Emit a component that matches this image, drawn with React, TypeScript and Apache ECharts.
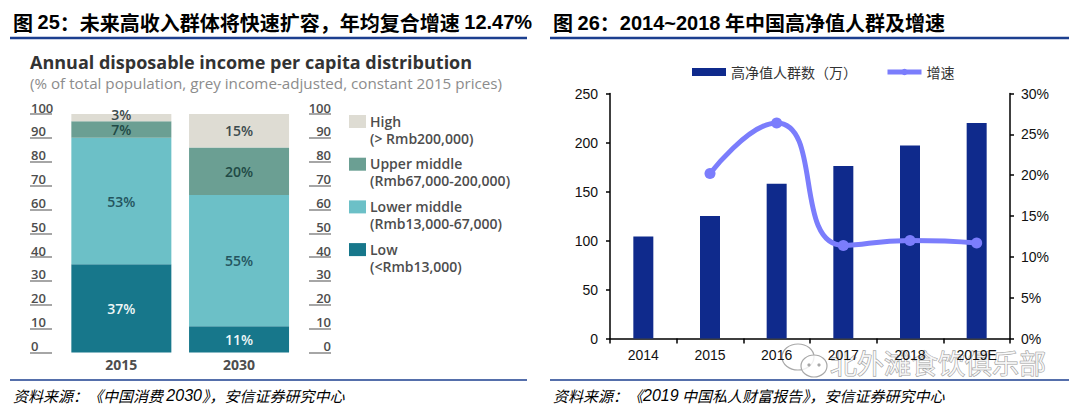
import React, { useEffect, useRef } from 'react';
import * as echarts from 'echarts';

// ---- Figure 25 data ----
const incomeYears = ['2015', '2030'];
const incomeGroups = ['Low', 'Lower middle', 'Upper middle', 'High'];
const incomeRanges = ['(<Rmb13,000)', '(Rmb13,000-67,000)', '(Rmb67,000-200,000)', '(> Rmb200,000)'];
const lowShare = [37, 11];
const lowerMiddleShare = [53, 55];
const upperMiddleShare = [7, 20];
const highShare = [3, 15];
const shareAxisMax = 100;
const shareAxisStep = 10;

// ---- Figure 26 data ----
const hnwYears = ['2014', '2015', '2016', '2017', '2018', '2019E'];
const hnwCount = [104, 125, 158, 176, 197, 220];
const hnwGrowth = [null, 20.2, 26.4, 11.4, 12.0, 11.7];
const hnwCountName = '高净值人群数（万）';
const hnwGrowthName = '增速';

// ---- texts ----
const title25 = ['图 ', '25', '：未来高收入群体将快速扩容，年均复合增速 ', '12.47%'];
const title26 = ['图 ', '26', '：', '2014~2018', ' 年中国高净值人群及增速'];
const chartTitle25 = 'Annual disposable income per capita distribution';
const chartSub25 = '(% of total population, grey income-adjusted, constant 2015 prices)';
const source25 = ['资料来源：《中国消费 ', '2030', '》，安信证券研究中心'];
const source26 = ['资料来源：《', '2019', ' 中国私人财富报告》，安信证券研究中心'];
const watermark = '北外滩食饮俱乐部';

const incomeColors = ['#17778b', '#6cc0c7', '#6b9f93', '#dedcd3'];
const incomeLabelColors = ['#eef7f8', '#24555e', '#1f4a45', '#3c4b4d'];
const sansEn = '"Open Sans", "Noto Sans", sans-serif';
const sansCJK = '"Noto Sans CJK SC", sans-serif';
const arial = '"Liberation Sans", Arial, sans-serif';
const headBlue = '#1b4a9c';
const greyText = '#4d4d4d';

export default function App() {
  const ref = useRef<HTMLDivElement>(null);

  useEffect(() => {
    if (!ref.current) return;
    const chart = echarts.init(ref.current, null, { renderer: 'svg' });

    const shares = [lowShare, lowerMiddleShare, upperMiddleShare, highShare];
    const incomeSeries = incomeGroups.map((name, gi) => ({
      name,
      type: 'bar',
      stack: 'income',
      xAxisIndex: 0,
      yAxisIndex: 0,
      barWidth: 100,
      itemStyle: { color: incomeColors[gi] },
      label: {
        show: true,
        position: 'inside',
        formatter: '{c}%',
        color: incomeLabelColors[gi],
        fontFamily: sansEn,
        fontWeight: 600,
        fontSize: 14,
      },
      data: shares[gi].map((v, i) =>
        gi === 3 && i === 0 ? { value: v, label: { offset: [0, -3] } } : v
      ),
    }));

    const rich = (fontSize: number) => ({
      a: { fontFamily: sansCJK, fontSize, color: headBlue, fontWeight: 'bold' },
      b: { fontFamily: arial, fontSize, color: headBlue, fontWeight: 'bold' },
    });

    const legendItems: any[] = [];
    incomeGroups.forEach((name, gi) => {
      const idx = 3 - gi; // High first
      const y0 = 115 + idx * 42.7;
      legendItems.push({
        type: 'rect',
        shape: { x: 349, y: y0, width: 17, height: 13 },
        style: { fill: incomeColors[gi] },
      });
      legendItems.push({
        type: 'text',
        x: 370,
        y: y0 + 6,
        style: {
          text: name,
          fill: greyText,
          fontFamily: sansEn,
          fontWeight: 600,
          fontSize: 14,
          verticalAlign: 'middle',
          align: 'left',
        },
      });
      legendItems.push({
        type: 'text',
        x: 370,
        y: y0 + 23,
        style: {
          text: incomeRanges[gi],
          fill: greyText,
          fontFamily: sansEn,
          fontWeight: 600,
          fontSize: 14,
          verticalAlign: 'middle',
          align: 'left',
        },
      });
    });

    const option: any = {
      animation: false,
      backgroundColor: '#fff',
      legend: {
        left: 687,
        top: 60,
        itemWidth: 34,
        itemHeight: 8,
        itemGap: 28,
        textStyle: { fontFamily: sansCJK, fontSize: 14, color: '#333' },
        data: [
          { name: hnwCountName, icon: 'rect' },
          { name: hnwGrowthName, lineStyle: { width: 5, color: '#7b7dfc' } },
        ],
      },
      grid: [
        { left: 62.5, top: 114, width: 235.4, height: 238.5 },
        { left: 610, top: 93.5, width: 400, height: 245 },
      ],
      xAxis: [
        {
          type: 'category',
          gridIndex: 0,
          data: incomeYears,
          axisLine: { show: false },
          axisTick: { show: false },
          axisLabel: {
            color: greyText,
            fontFamily: sansEn,
            fontWeight: 'bold',
            fontSize: 14,
            margin: 5,
          },
        },
        {
          type: 'category',
          gridIndex: 1,
          data: hnwYears,
          axisLine: { show: true, lineStyle: { color: '#000', width: 1.5 } },
          axisTick: { show: true, length: 5, lineStyle: { color: '#000', width: 1.5 } },
          axisLabel: { color: '#111', fontFamily: arial, fontSize: 14, margin: 9 },
        },
      ],
      yAxis: [
        {
          type: 'value',
          gridIndex: 0,
          position: 'left',
          offset: 10.5,
          min: 0,
          max: shareAxisMax,
          interval: shareAxisStep,
          axisLine: { show: false },
          splitLine: { show: false },
          axisTick: { show: true, length: 22, lineStyle: { color: '#888', width: 1.5 } },
          axisLabel: {
            align: 'left',
            margin: 21,
            verticalAlign: 'bottom',
            color: greyText,
            fontFamily: sansEn,
            fontWeight: 600,
            fontSize: 13,
          },
        },
        {
          type: 'value',
          gridIndex: 0,
          position: 'right',
          offset: 11.1,
          min: 0,
          max: shareAxisMax,
          interval: shareAxisStep,
          axisLine: { show: false },
          splitLine: { show: false },
          axisTick: { show: true, length: 22, lineStyle: { color: '#888', width: 1.5 } },
          axisLabel: {
            align: 'right',
            margin: 22,
            verticalAlign: 'bottom',
            color: greyText,
            fontFamily: sansEn,
            fontWeight: 600,
            fontSize: 13,
          },
        },
        {
          type: 'value',
          gridIndex: 1,
          position: 'left',
          min: 0,
          max: 250,
          interval: 50,
          axisLine: { show: true, lineStyle: { color: '#000', width: 1.5 } },
          axisTick: { show: true, length: 4, lineStyle: { color: '#000', width: 1.5 } },
          splitLine: { show: false },
          axisLabel: { color: '#111', fontFamily: arial, fontSize: 14, margin: 12 },
        },
        {
          type: 'value',
          gridIndex: 1,
          position: 'right',
          min: 0,
          max: 30,
          interval: 5,
          axisLine: { show: true, lineStyle: { color: '#000', width: 1.5 } },
          axisTick: { show: true, length: 4, lineStyle: { color: '#000', width: 1.5 } },
          splitLine: { show: false },
          axisLabel: { color: '#111', fontFamily: arial, fontSize: 14, margin: 11, formatter: '{value}%' },
        },
      ],
      series: [
        ...incomeSeries,
        {
          name: hnwCountName,
          type: 'bar',
          xAxisIndex: 1,
          yAxisIndex: 2,
          barWidth: 20,
          itemStyle: { color: '#0f2a8c' },
          data: hnwCount,
        },
        {
          name: hnwGrowthName,
          type: 'line',
          xAxisIndex: 1,
          yAxisIndex: 3,
          smooth: 0.55,
          symbol: 'circle',
          symbolSize: 11,
          lineStyle: { color: '#7b7dfc', width: 5 },
          itemStyle: { color: '#7b7dfc' },
          data: hnwGrowth,
          z: 5,
        },
      ],
      graphic: {
        elements: [
          // headers
          {
            type: 'text',
            x: 13,
            y: 22,
            style: {
              text: `{a|${title25[0]}}{b|${title25[1]}}{a|${title25[2]}}{b|${title25[3]}}`,
              rich: rich(20),
              verticalAlign: 'middle',
              align: 'left',
            },
          },
          {
            type: 'line',
            shape: { x1: 10, y1: 38, x2: 527, y2: 38 },
            style: { stroke: '#1c3f8f', lineWidth: 2.5 },
          },
          {
            type: 'text',
            x: 553,
            y: 22.5,
            style: {
              text: `{a|${title26[0]}}{b|${title26[1]}}{a|${title26[2]}}{b|${title26[3]}}{a|${title26[4]}}`,
              rich: rich(20),
              verticalAlign: 'middle',
              align: 'left',
            },
          },
          {
            type: 'line',
            shape: { x1: 550, y1: 38, x2: 1069, y2: 38 },
            style: { stroke: '#1c3f8f', lineWidth: 2.5 },
          },
          // left chart titles
          {
            type: 'text',
            x: 30,
            y: 62,
            style: {
              text: chartTitle25,
              fill: '#333',
              fontFamily: sansEn,
              fontWeight: 'bold',
              fontSize: 18,
              verticalAlign: 'middle',
              align: 'left',
            },
          },
          {
            type: 'text',
            x: 30,
            y: 83,
            style: {
              text: chartSub25,
              fill: '#8c8c8c',
              fontFamily: sansEn,
              fontSize: 15.2,
              verticalAlign: 'middle',
              align: 'left',
            },
          },
          ...legendItems,
          // footers
          {
            type: 'line',
            shape: { x1: 10, y1: 380, x2: 527, y2: 380 },
            style: { stroke: '#1c3f8f', lineWidth: 1.5 },
          },
          {
            type: 'line',
            shape: { x1: 550, y1: 380, x2: 1069, y2: 380 },
            style: { stroke: '#1c3f8f', lineWidth: 1.5 },
          },
          {
            type: 'text',
            x: 13,
            y: 395,
            style: {
              text: `{a|${source25[0]}}{b|${source25[1]}}{a|${source25[2]}}`,
              rich: {
                a: { fontFamily: sansCJK, fontSize: 15, fontStyle: 'italic', color: '#6d85c0' },
                b: { fontFamily: arial, fontSize: 16, fontStyle: 'italic', color: '#24449c' },
              },
              verticalAlign: 'middle',
              align: 'left',
            },
          },
          {
            type: 'text',
            x: 553,
            y: 395,
            style: {
              text: `{a|${source26[0]}}{b|${source26[1]}}{a|${source26[2]}}`,
              rich: {
                a: { fontFamily: sansCJK, fontSize: 15, fontStyle: 'italic', color: '#6d85c0' },
                b: { fontFamily: arial, fontSize: 16, fontStyle: 'italic', color: '#24449c' },
              },
              verticalAlign: 'middle',
              align: 'left',
            },
          },
          // watermark
          {
            type: 'group',
            z: 100,
            children: [
              {
                type: 'ellipse',
                shape: { cx: 798, cy: 357, rx: 16, ry: 13 },
                style: { fill: 'rgba(255,255,255,0.7)', stroke: '#a8a8a8', lineWidth: 1.2 },
              },
              {
                type: 'ellipse',
                shape: { cx: 814, cy: 366, rx: 13, ry: 11 },
                style: { fill: 'rgba(255,255,255,0.8)', stroke: '#a8a8a8', lineWidth: 1.2 },
              },
              { type: 'circle', shape: { cx: 809, cy: 365, r: 1.6 }, style: { fill: '#a8a8a8' } },
              { type: 'circle', shape: { cx: 819, cy: 365, r: 1.6 }, style: { fill: '#a8a8a8' } },
              {
                type: 'text',
                x: 830,
                y: 362,
                style: {
                  text: watermark,
                  fill: 'rgba(255,255,255,0.75)',
                  stroke: '#9a9a9a',
                  lineWidth: 1,
                  fontFamily: sansCJK,
                  fontSize: 27,
                  verticalAlign: 'middle',
                  align: 'left',
                },
              },
            ],
          },
        ],
      },
    };

    chart.setOption(option);
    return () => chart.dispose();
  }, []);

  return (
    <div
      ref={ref}
      style={{ position: 'absolute', left: 0, top: 0, width: 1080, height: 412, background: '#fff' }}
    />
  );
}
